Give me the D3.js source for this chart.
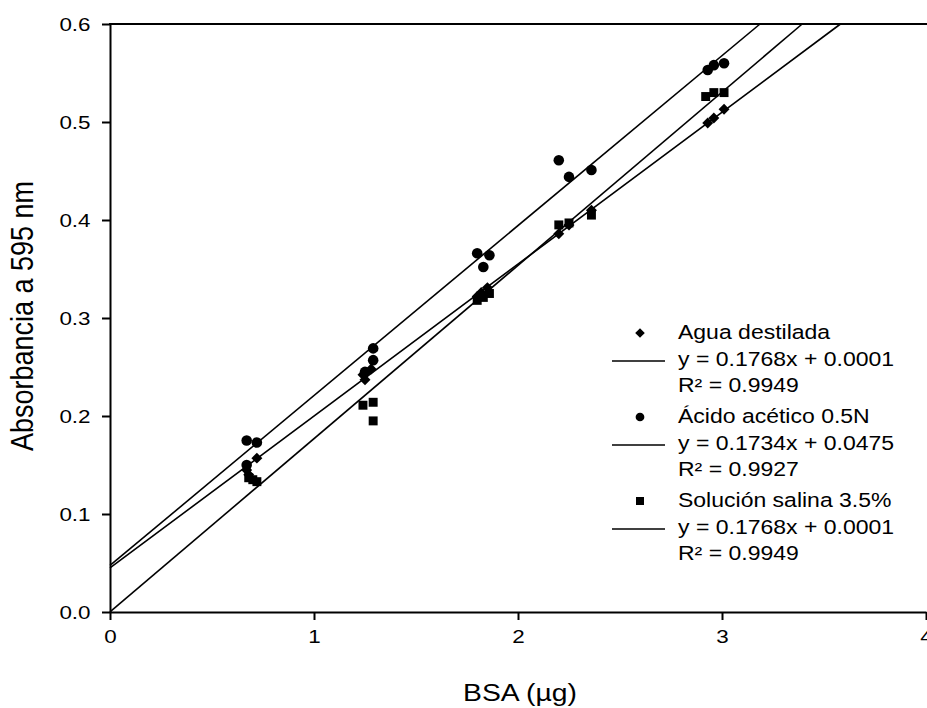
<!DOCTYPE html>
<html>
<head>
<meta charset="utf-8">
<script src="https://cdn.jsdelivr.net/npm/d3@7"></script>
<style>
  body { margin: 0; background: #fff; }
  text { font-family: "Liberation Sans", Arial, sans-serif; fill: #000; }
</style>
</head>
<body>
<script>
// data
var aguaX = [0.72, 0.67, 0.68, 1.28, 1.24, 1.25, 1.85, 1.82, 1.80, 2.20, 2.25, 2.36, 2.93, 2.96, 3.01];
var aguaY = [0.157, 0.145, 0.140, 0.248, 0.242, 0.237, 0.331, 0.326, 0.322, 0.386, 0.395, 0.410, 0.499, 0.504, 0.513];
var acetX = [0.67, 0.72, 0.67, 1.29, 1.29, 1.25, 1.80, 1.86, 1.83, 2.20, 2.25, 2.36, 2.93, 2.96, 3.01];
var acetY = [0.175, 0.173, 0.150, 0.269, 0.257, 0.245, 0.366, 0.364, 0.352, 0.461, 0.444, 0.451, 0.553, 0.558, 0.560];
var salX = [0.68, 0.72, 0.70, 1.24, 1.29, 1.29, 1.80, 1.83, 1.86, 2.20, 2.25, 2.36, 2.92, 2.96, 3.01];
var salY = [0.137, 0.133, 0.135, 0.211, 0.214, 0.195, 0.318, 0.321, 0.325, 0.395, 0.397, 0.405, 0.526, 0.530, 0.530];

// fitted lines as drawn (slope, intercept)
var fitSlopes = [0.155, 0.1734, 0.1768];
var fitIntercepts = [0.045, 0.0475, 0.0001];

var seriesNames = ['Agua destilada', 'Ácido acético 0.5N', 'Solución salina 3.5%'];
var equations = ['y = 0.1768x + 0.0001', 'y = 0.1734x + 0.0475', 'y = 0.1768x + 0.0001'];
var r2Labels = ['R² = 0.9949', 'R² = 0.9927', 'R² = 0.9949'];

var xTicks = [0, 1, 2, 3, 4];
var yTicks = [0.0, 0.1, 0.2, 0.3, 0.4, 0.5, 0.6];

var SX = 1.18; // text in the picture is a bit wider than tall

var svg = d3.select('body').append('svg')
  .attr('width', 927)
  .attr('height', 708);

var x = d3.scaleLinear().domain([0, 4]).range([110, 926]);
var y = d3.scaleLinear().domain([0, 0.6]).range([612, 24]);

// regression lines, cut at the top of the frame
var lineGen = d3.line()
  .x(function (d) { return x(d[0]); })
  .y(function (d) { return y(d[1]); });

fitSlopes.forEach(function (m, i) {
  var b = fitIntercepts[i];
  var xEnd = Math.min(4, (0.6 - b) / m);
  svg.append('path')
    .attr('d', lineGen([[0, b], [xEnd, m * xEnd + b]]))
    .attr('fill', 'none')
    .attr('stroke', '#000')
    .attr('stroke-width', 1.6);
});

// markers
var diamond = d3.symbol().type(d3.symbolSquare).size(60);
var circle = d3.symbol().type(d3.symbolCircle).size(88);
var square = d3.symbol().type(d3.symbolSquare).size(80);

function drawPoints(xs, ys, sym, rot) {
  svg.append('g').selectAll('path')
    .data(d3.zip(xs, ys))
    .join('path')
      .attr('d', sym)
      .attr('fill', '#000')
      .attr('transform', function (d) {
        return 'translate(' + x(d[0]) + ',' + y(d[1]) + ')' + (rot ? ' rotate(45)' : '');
      });
}

drawPoints(aguaX, aguaY, diamond, true);
drawPoints(acetX, acetY, circle, false);
drawPoints(salX, salY, square, false);

// axes
var yAxis = svg.append('g')
  .attr('transform', 'translate(110,0)')
  .call(d3.axisLeft(y).tickValues(yTicks).tickFormat(d3.format('.1f'))
    .tickSize(8).tickSizeOuter(0).tickPadding(8.5));

var xAxis = svg.append('g')
  .attr('transform', 'translate(0,612)')
  .call(d3.axisBottom(x).tickValues(xTicks).tickFormat(d3.format('d'))
    .tickSize(8).tickSizeOuter(0).tickPadding(10));

[yAxis, xAxis].forEach(function (g) {
  g.selectAll('path, line').attr('stroke', '#000').attr('stroke-width', 2);
  g.selectAll('.tick text')
    .attr('transform', 'scale(' + SX + ',1)')
    .style('font-size', '19px')
    .style('font-family', '"Liberation Sans", Arial, sans-serif')
    .attr('fill', '#000');
});

// top of the frame
svg.append('line')
  .attr('x1', 109).attr('x2', 927)
  .attr('y1', 24).attr('y2', 24)
  .attr('stroke', '#000')
  .attr('stroke-width', 2);

// axis titles
svg.append('text')
  .attr('transform', 'translate(520,701) scale(' + SX + ',1)')
  .attr('text-anchor', 'middle')
  .style('font-size', '24px')
  .text('BSA (µg)');

svg.append('text')
  .attr('transform', 'translate(33,316) scale(' + SX + ',1) rotate(-90)')
  .attr('text-anchor', 'middle')
  .style('font-size', '27px')
  .text('Absorbancia a 595 nm');

// legend
var legendSyms = [
  d3.symbol().type(d3.symbolSquare).size(46),
  d3.symbol().type(d3.symbolCircle).size(60),
  d3.symbol().type(d3.symbolSquare).size(64)
];

function legendText(px, py, str) {
  svg.append('text')
    .attr('transform', 'translate(' + px + ',' + py + ') scale(' + SX + ',1)')
    .style('font-size', '19.5px')
    .text(str);
}

seriesNames.forEach(function (name, i) {
  var top = 339 + i * 84;
  svg.append('path')
    .attr('d', legendSyms[i])
    .attr('fill', '#000')
    .attr('transform', 'translate(640,' + (top - 6) + ')' + (i === 0 ? ' rotate(45)' : ''));
  legendText(678, top, name);
  svg.append('line')
    .attr('x1', 612).attr('x2', 665)
    .attr('y1', top + 22).attr('y2', top + 22)
    .attr('stroke', '#000')
    .attr('stroke-width', 1.6);
  legendText(678, top + 27, equations[i]);
  legendText(678, top + 53, r2Labels[i]);
});
</script>
</body>
</html>
